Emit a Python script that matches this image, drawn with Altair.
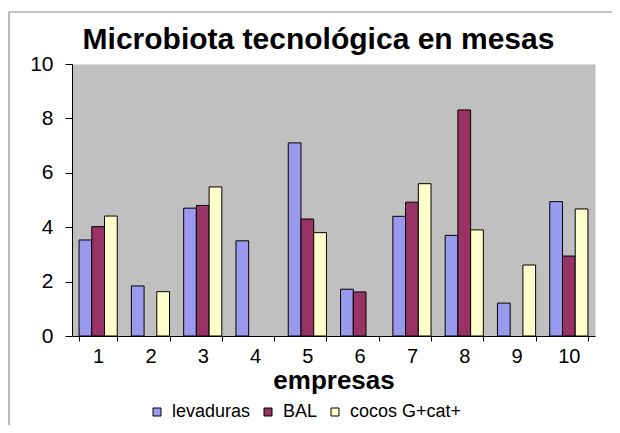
import altair as alt
import pandas as pd

empresas = ["1", "2", "3", "4", "5", "6", "7", "8", "9", "10"]
series = ["levaduras", "BAL", "cocos G+cat+"]
levaduras = [3.53, 1.84, 4.7, 3.5, 7.1, 1.72, 4.4, 3.7, 1.21, 4.94]
bal = [4.02, 0, 4.8, 0, 4.3, 1.62, 4.92, 8.31, 0, 2.94]
cocos = [4.41, 1.63, 5.48, 0, 3.8, 0, 5.6, 3.9, 2.61, 4.67]
colors = ["#9999ee", "#993366", "#ffffcc"]

rows = []
for s, vals in zip(series, [levaduras, bal, cocos]):
    for e, v in zip(empresas, vals):
        rows.append({"empresa": e, "serie": s, "valor": v})
df = pd.DataFrame(rows)

FONT = "Liberation Sans"

bars = (
    alt.Chart(df)
    .transform_filter("datum.valor > 0")
    .mark_bar(stroke="#000000", strokeWidth=1)
    .encode(
        x=alt.X(
            "empresa:N",
            sort=empresas,
            scale=alt.Scale(domain=empresas, paddingInner=0.27, paddingOuter=0.135),
            axis=alt.Axis(
                title="empresas",
                labelAngle=0,
                labelFont=FONT,
                labelFontSize=20,
                labelColor="black",
                labelPadding=5,
                tickBand="extent",
                tickSize=5,
                tickColor="black",
                domainColor="black",
                titleFont=FONT,
                titleFontSize=26,
                titleFontWeight="bold",
                titleColor="black",
                titlePadding=1,
            ),
        ),
        xOffset=alt.XOffset(
            "serie:N",
            sort=series,
            scale=alt.Scale(domain=series, paddingInner=0, paddingOuter=0),
        ),
        y=alt.Y(
            "valor:Q",
            scale=alt.Scale(domain=[0, 10]),
            axis=alt.Axis(
                title=None,
                values=[0, 2, 4, 6, 8, 10],
                grid=False,
                labelFont=FONT,
                labelFontSize=21,
                labelColor="black",
                labelPadding=12,
                tickSize=7,
                tickColor="black",
                domainColor="black",
            ),
        ),
        color=alt.Color(
            "serie:N",
            sort=series,
            scale=alt.Scale(domain=series, range=colors),
            legend=alt.Legend(
                title=None,
                orient="none",
                legendX=76,
                legendY=339,
                direction="horizontal",
                labelFont=FONT,
                labelFontSize=18,
                labelColor="black",
                symbolType="square",
                symbolSize=64,
                symbolStrokeColor="black",
                symbolStrokeWidth=1,
                columnPadding=8,
                labelOffset=6,
            ),
        ),
    )
)

frame_data = alt.Data(values=[{"k": 1}])
border_left = alt.Chart(frame_data).mark_rule(color="#8a8a8a", strokeWidth=1.2).encode(
    x=alt.value(-63), y=alt.value(-52), y2=alt.value(420)
)
border_top = alt.Chart(frame_data).mark_rule(color="#8a8a8a", strokeWidth=1.2).encode(
    x=alt.value(-63), x2=alt.value(540), y=alt.value(-52)
)

chart = (
    alt.layer(bars, border_left, border_top)
    .properties(
        width=523,
        height=272,
        autosize=alt.AutoSizeParams(type="none"),
        padding={"left": 64, "top": 56, "right": 17, "bottom": 89},
        view=alt.ViewBackground(fill="#c0c0c0", stroke="transparent"),
        title=alt.Title(
            "Microbiota tecnológica en mesas",
            font=FONT,
            fontSize=30,
            fontWeight="bold",
            color="black",
            anchor="middle",
            dx=-15,
            baseline="alphabetic",
            offset=-68,
        ),
    )
    .configure_view(fill="#c0c0c0", stroke="transparent")
    .configure(background="white")
)

chart.save("out.html", embed_options={"renderer": "svg", "actions": False})
